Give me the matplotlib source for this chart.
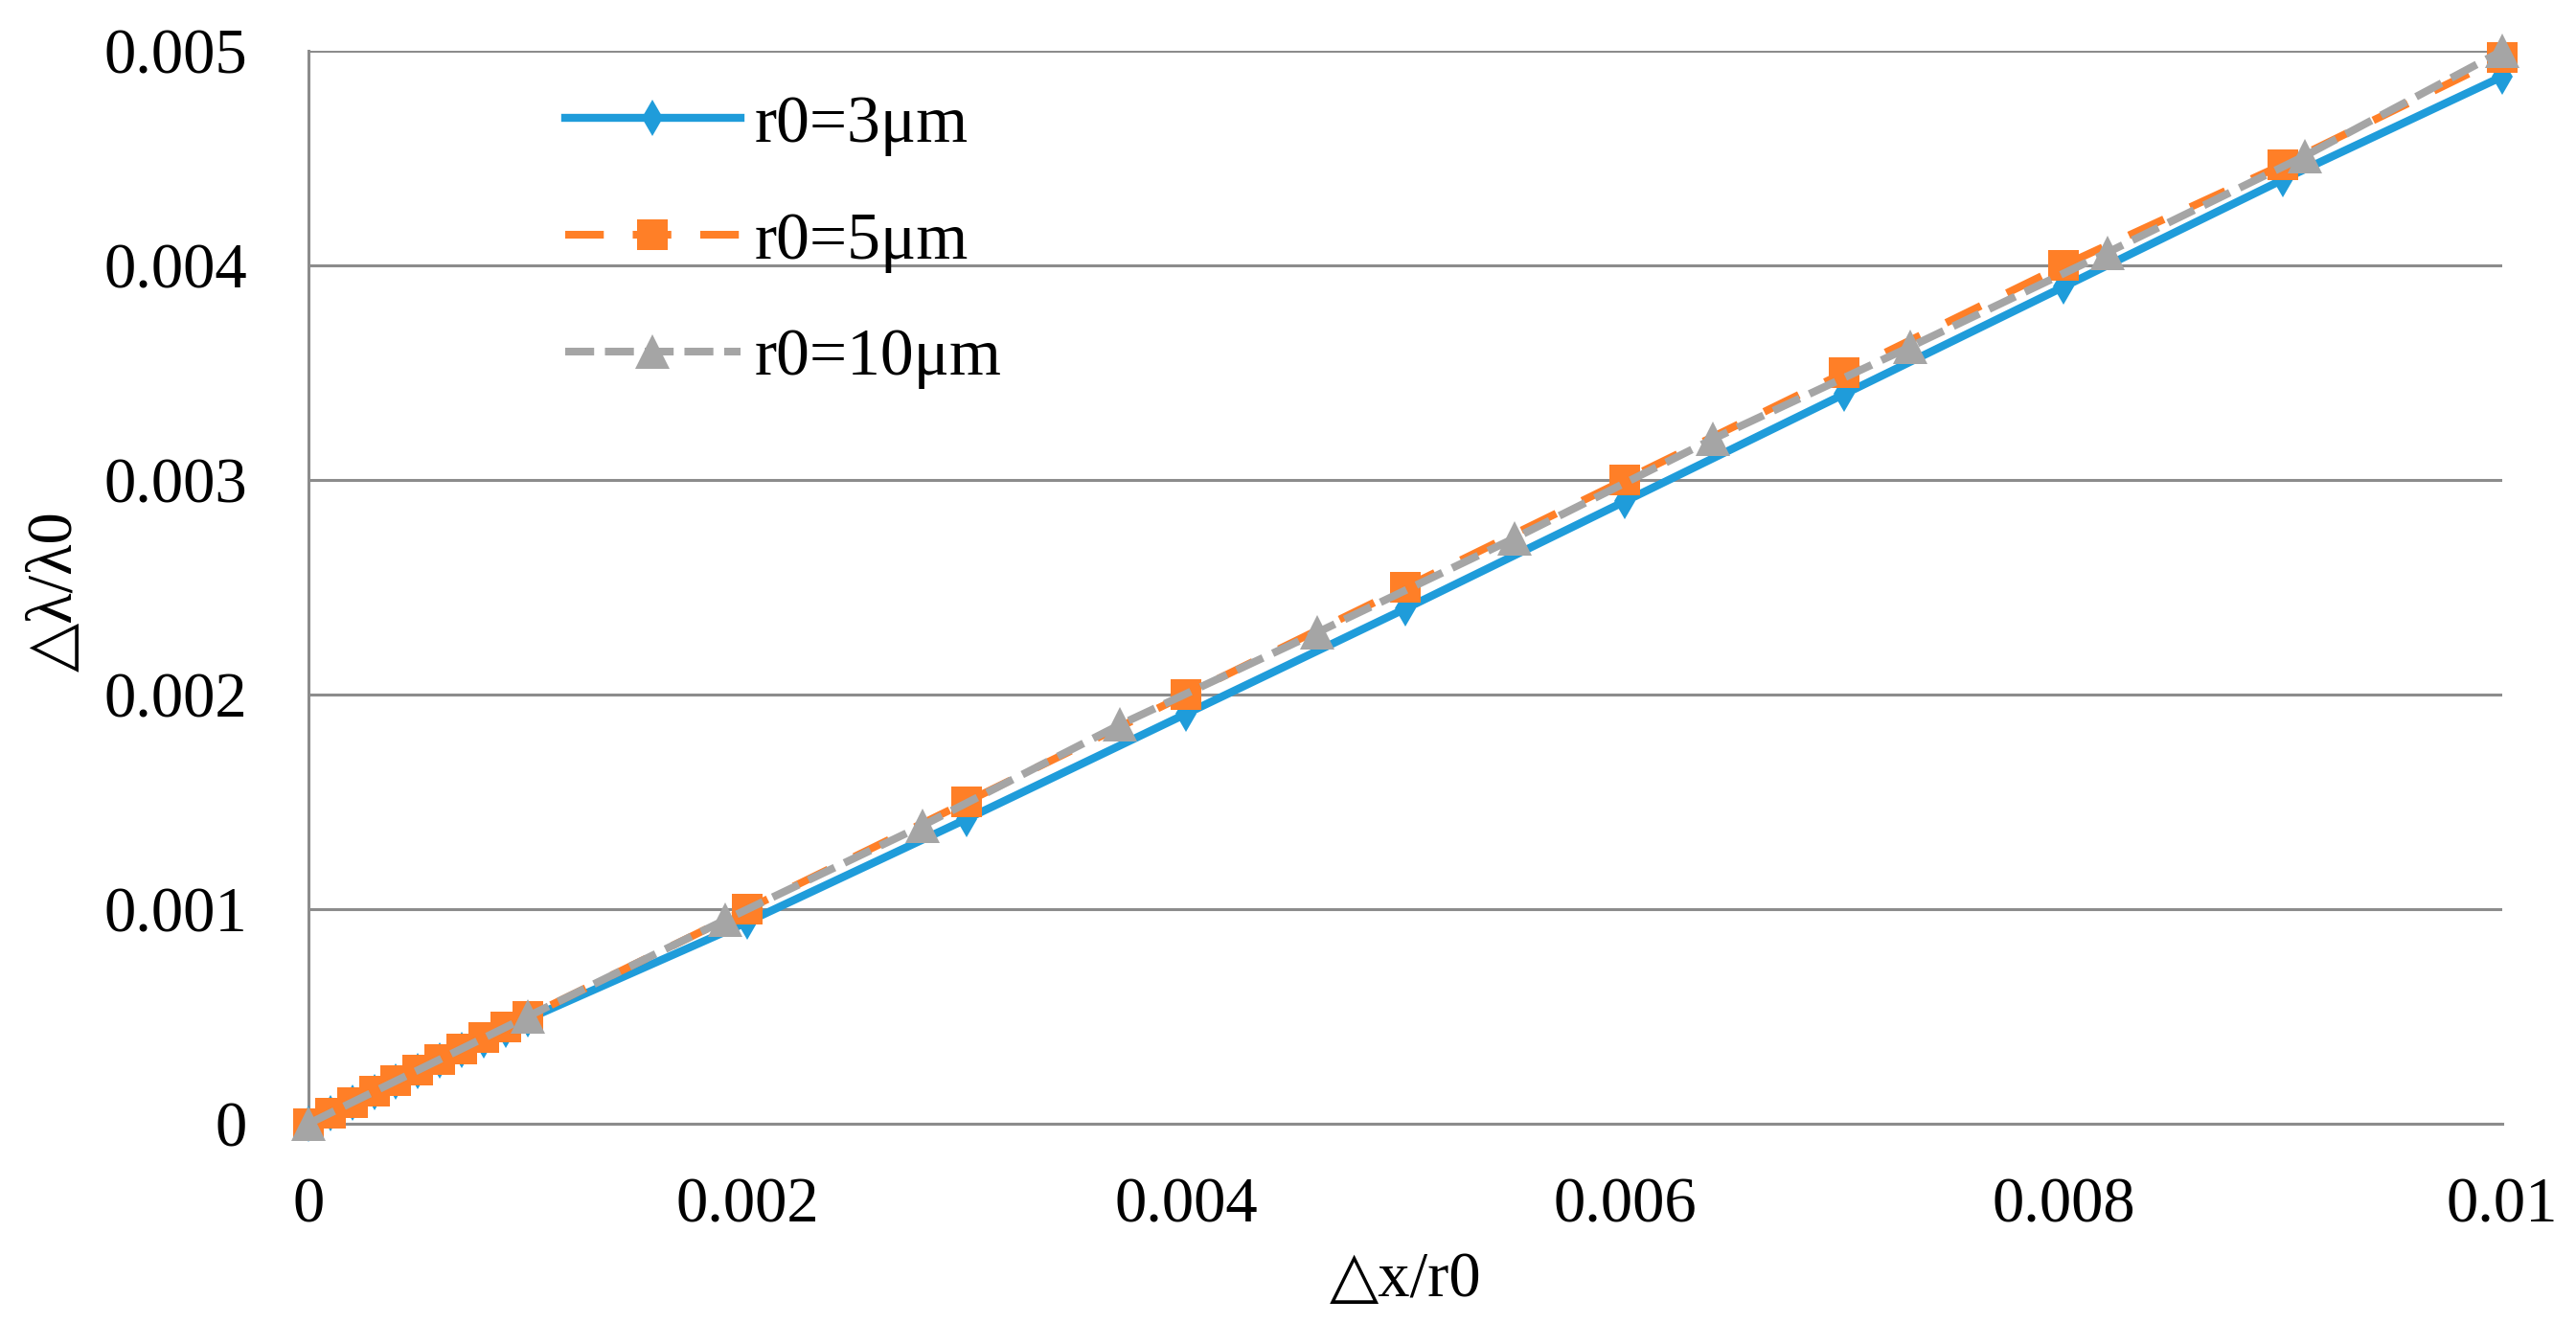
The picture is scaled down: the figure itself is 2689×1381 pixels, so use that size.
import matplotlib
matplotlib.use("Agg")
import matplotlib.pyplot as plt

# Data
x_dense = [0, 0.0001, 0.0002, 0.0003, 0.0004, 0.0005, 0.0006, 0.0007, 0.0008, 0.0009, 0.001,
           0.002, 0.003, 0.004, 0.005, 0.006, 0.007, 0.008, 0.009, 0.01]
y_r3 = [0, 0.000049, 0.000098, 0.000146, 0.000195, 0.000244, 0.000293, 0.000342, 0.00039, 0.000439, 0.000488,
        0.00094, 0.00142, 0.00191, 0.0024, 0.0029, 0.0034, 0.0039, 0.0044, 0.00488]
y_r5 = [0, 0.00005, 0.0001, 0.00015, 0.0002, 0.00025, 0.0003, 0.00035, 0.0004, 0.00045, 0.0005,
        0.001, 0.0015, 0.002, 0.0025, 0.003, 0.0035, 0.004, 0.00447, 0.00497]
x_r10 = [0, 0.001, 0.0019, 0.0028, 0.0037, 0.0046, 0.0055, 0.0064, 0.0073, 0.0082, 0.0091, 0.01]
y_r10 = [0, 0.0005, 0.00095, 0.00139, 0.00186, 0.00229, 0.00273, 0.00319, 0.00362, 0.00406, 0.00451, 0.005]
labels = ["r0=3μm", "r0=5μm", "r0=10μm"]
x_ticks = [0, 0.002, 0.004, 0.006, 0.008, 0.01]
x_ticklabels = ["0", "0.002", "0.004", "0.006", "0.008", "0.01"]
y_ticks = [0, 0.001, 0.002, 0.003, 0.004, 0.005]
y_ticklabels = ["0", "0.001", "0.002", "0.003", "0.004", "0.005"]

serif = ["Liberation Serif", "DejaVu Sans"]
plt.rcParams["font.family"] = serif

fig = plt.figure(figsize=(26.89, 13.81), dpi=100)
ax = fig.add_axes([0.1197, 0.1506, 0.9714 - 0.1197, 0.9616 - 0.1506])

blue = "#1F9CDA"
orange = "#FF7F27"
gray = "#A5A5A5"
gridc = "#8C8C8C"

l1, = ax.plot(x_dense, y_r3, color=blue, lw=6, marker="d", markersize=19, markeredgewidth=0,
              label=labels[0], zorder=3, clip_on=False)
l2, = ax.plot(x_dense, y_r5, color=orange, lw=5.8, marker="s", markersize=23.5, markeredgewidth=0,
              label=labels[1], zorder=4, clip_on=False, dash_capstyle="butt")
l2.set_dashes([5, 3.75])
l3, = ax.plot(x_r10, y_r10, color=gray, lw=5.8, marker="^", markersize=25.5, markeredgewidth=0,
              label=labels[2], zorder=5, clip_on=False, dash_capstyle="butt")
l3.set_dashes([3.75, 1.4])

ax.set_xlim(0, 0.01)
ax.set_ylim(0, 0.005)
ax.set_xticks(x_ticks)
ax.set_xticklabels(x_ticklabels)
ax.set_yticks(y_ticks)
ax.set_yticklabels(y_ticklabels)
ax.tick_params(axis="both", length=0, labelsize=48)
ax.tick_params(axis="x", pad=40)
ax.tick_params(axis="y", pad=46)
for s in ["top", "right"]:
    ax.spines[s].set_visible(False)
for s in ["left", "bottom"]:
    ax.spines[s].set_color(gridc)
    ax.spines[s].set_linewidth(2.2)
ax.yaxis.grid(True, color=gridc, lw=2.2)
ax.set_axisbelow(True)

leg = ax.legend(handles=[l1, l2, l3], loc="upper left", bbox_to_anchor=(0.117, 0.959),
                frameon=False, fontsize=50, handlelength=2.64, handletextpad=0.21,
                labelspacing=0.84, numpoints=1, borderaxespad=0, borderpad=0)

fig.text(1467 / 2689, 1 - 1353 / 1381, "△x/r0", fontsize=48, ha="center", va="baseline",
         family=serif)
fig.text(58 / 2689, 1 - 617 / 1381, "△λ/λ0", fontsize=48, ha="center", va="center",
         rotation=90, family=serif)

fig.savefig("out.png", dpi=100, facecolor="white")
